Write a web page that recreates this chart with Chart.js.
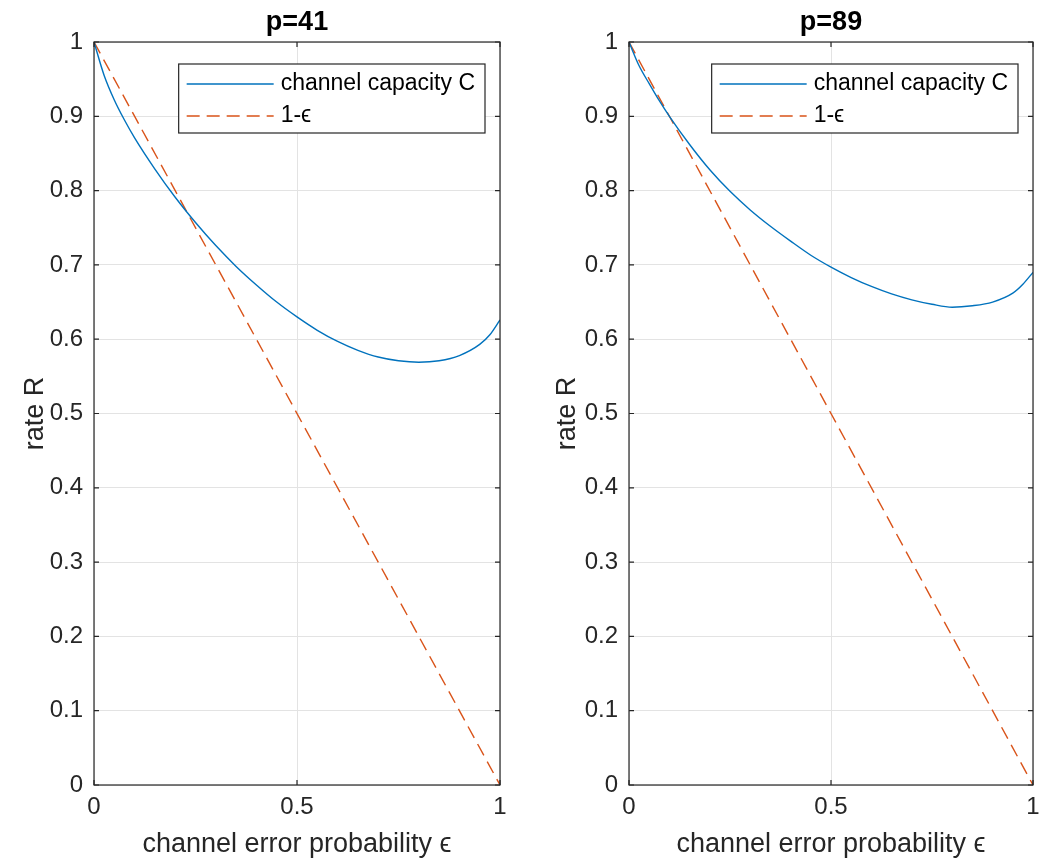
<!DOCTYPE html>
<html lang="en">
<head>
    <meta charset="UTF-8">
    <title>Channel capacity vs error probability</title>
    <script src="https://cdn.jsdelivr.net/npm/chart.js"></script>
    <style>
        body {
            margin: 0;
            background: #ffffff;
            font-family: "Liberation Sans", Arial, sans-serif;
        }
        .wrap {
            position: relative;
            width: 1048px;
            height: 861px;
        }
        .panel {
            position: absolute;
            top: 0;
            width: 524px;
            height: 861px;
        }
    </style>
</head>
<body>
    <div class="wrap">
        <div class="panel" style="left:0"><canvas id="chart-p41"></canvas></div>
        <div class="panel" style="left:524px"><canvas id="chart-p89"></canvas></div>
    </div>

    <script>
        // error probability values (x)
        const epsValues = [0, 0.025, 0.05, 0.075, 0.1, 0.15, 0.2, 0.25, 0.3, 0.35, 0.4, 0.45, 0.5,
                           0.55, 0.6, 0.65, 0.7, 0.75, 0.8, 0.85, 0.9, 0.95, 0.975, 1];
        // channel capacity C, p=41
        const capP41 = [1, 0.955, 0.922, 0.895, 0.871, 0.829, 0.791, 0.757, 0.726, 0.698, 0.673, 0.650, 0.630,
                        0.612, 0.597, 0.585, 0.576, 0.571, 0.569, 0.571, 0.578, 0.593, 0.606, 0.626];
        // channel capacity C, p=89
        const capP89 = [1, 0.968, 0.944, 0.921, 0.900, 0.862, 0.828, 0.799, 0.774, 0.752, 0.732, 0.713, 0.697,
                        0.683, 0.671, 0.661, 0.653, 0.647, 0.643, 0.645, 0.650, 0.662, 0.674, 0.690];
        // 1-eps reference line (end points)
        const lineEps = [0, 1];
        const lineVals = [1, 0];

        const xTicks = [0, 0.5, 1];
        const yTicks = [0, 0.1, 0.2, 0.3, 0.4, 0.5, 0.6, 0.7, 0.8, 0.9, 1];

        const axisColor = '#262626';
        const gridColor = '#e3e3e3';
        const fontFamily = '"Liberation Sans", Arial, sans-serif';

        // axes box + inward ticks like the original figure
        const boxPlugin = {
            id: 'box',
            afterDatasetsDraw(chart) {
                const { ctx, chartArea: a, scales } = chart;
                ctx.save();
                ctx.strokeStyle = axisColor;
                ctx.lineWidth = 1.2;
                ctx.strokeRect(a.left, a.top, a.right - a.left, a.bottom - a.top);
                ctx.beginPath();
                yTicks.forEach(v => {
                    const y = scales.y.getPixelForValue(v);
                    ctx.moveTo(a.left, y); ctx.lineTo(a.left + 5, y);
                    ctx.moveTo(a.right, y); ctx.lineTo(a.right - 5, y);
                });
                xTicks.forEach(v => {
                    const x = scales.x.getPixelForValue(v);
                    ctx.moveTo(x, a.bottom); ctx.lineTo(x, a.bottom - 5);
                    ctx.moveTo(x, a.top); ctx.lineTo(x, a.top + 5);
                });
                ctx.stroke();
                ctx.restore();
            }
        };

        // boxed legend inside the top right of the plot
        const boxLegend = {
            id: 'boxLegend',
            afterDraw(chart) {
                const { ctx, chartArea: a } = chart;
                const sets = chart.data.datasets;
                ctx.save();
                ctx.font = '23px ' + fontFamily;
                const textW = Math.max(...sets.map(d => ctx.measureText(d.label).width));
                const w = 8 + 87 + 7 + textW + 10;
                const h = 69;
                const x0 = a.right - 15 - w;
                const y0 = a.top + 22;
                ctx.fillStyle = '#ffffff';
                ctx.fillRect(x0, y0, w, h);
                ctx.strokeStyle = axisColor;
                ctx.lineWidth = 1.2;
                ctx.strokeRect(x0, y0, w, h);
                sets.forEach((d, i) => {
                    const y = y0 + 20 + i * 32;
                    ctx.beginPath();
                    ctx.strokeStyle = d.borderColor;
                    ctx.lineWidth = d.borderWidth;
                    ctx.setLineDash(d.borderDash || []);
                    ctx.moveTo(x0 + 8, y);
                    ctx.lineTo(x0 + 95, y);
                    ctx.stroke();
                    ctx.setLineDash([]);
                    ctx.fillStyle = '#000000';
                    ctx.textBaseline = 'middle';
                    ctx.fillText(d.label, x0 + 102, y);
                });
                ctx.restore();
            }
        };

        function makeChart(id, title, capValues, yAxisWidth, yTitlePad, rightPad) {
            const ctx = document.getElementById(id).getContext('2d');
            return new Chart(ctx, {
                type: 'line',
                data: {
                    datasets: [
                        {
                            label: 'channel capacity C',
                            data: epsValues.map((e, i) => ({ x: e, y: capValues[i] })),
                            borderColor: '#0072BD',
                            borderWidth: 1.4,
                            pointRadius: 0,
                            cubicInterpolationMode: 'monotone',
                            fill: false
                        },
                        {
                            label: '1-ϵ',
                            data: lineEps.map((e, i) => ({ x: e, y: lineVals[i] })),
                            borderColor: '#D95319',
                            borderWidth: 1.4,
                            borderDash: [13, 7],
                            pointRadius: 0,
                            fill: false
                        }
                    ]
                },
                options: {
                    responsive: true,
                    maintainAspectRatio: false,
                    animation: false,
                    layout: { padding: { top: 0, right: rightPad, bottom: 0, left: 0 } },
                    plugins: {
                        legend: { display: false },
                        tooltip: { enabled: false },
                        title: {
                            display: true,
                            text: title,
                            fullSize: false,
                            color: '#000000',
                            font: { family: fontFamily, size: 27, weight: 'bold' },
                            padding: { top: 6, bottom: 3.6 }
                        }
                    },
                    scales: {
                        x: {
                            type: 'linear',
                            min: 0,
                            max: 1,
                            afterBuildTicks: s => { s.ticks = xTicks.map(v => ({ value: v })); },
                            afterFit: s => { s.height = 76; },
                            ticks: {
                                color: axisColor,
                                font: { family: fontFamily, size: 24 },
                                padding: 8,
                                maxRotation: 0,
                                callback: v => String(v)
                            },
                            grid: { color: gridColor, drawTicks: false, lineWidth: 1 },
                            border: { display: false },
                            title: {
                                display: true,
                                text: 'channel error probability ϵ',
                                color: axisColor,
                                font: { family: fontFamily, size: 27 },
                                padding: { top: 0, bottom: 0 }
                            }
                        },
                        y: {
                            min: 0,
                            max: 1,
                            afterBuildTicks: s => { s.ticks = yTicks.map(v => ({ value: v })); },
                            afterFit: s => { s.width = yAxisWidth; },
                            ticks: {
                                color: axisColor,
                                font: { family: fontFamily, size: 24 },
                                padding: 11,
                                callback: v => String(+v.toFixed(1))
                            },
                            grid: { color: gridColor, drawTicks: false, lineWidth: 1 },
                            border: { display: false },
                            title: {
                                display: true,
                                text: 'rate R',
                                color: axisColor,
                                font: { family: fontFamily, size: 27 },
                                padding: { top: yTitlePad, bottom: 0 }
                            }
                        }
                    }
                },
                plugins: [boxPlugin, boxLegend]
            });
        }

        makeChart('chart-p41', 'p=41', capP41, 94, 19, 24);
        makeChart('chart-p89', 'p=89', capP89, 105, 27, 15);
    </script>
</body>
</html>
